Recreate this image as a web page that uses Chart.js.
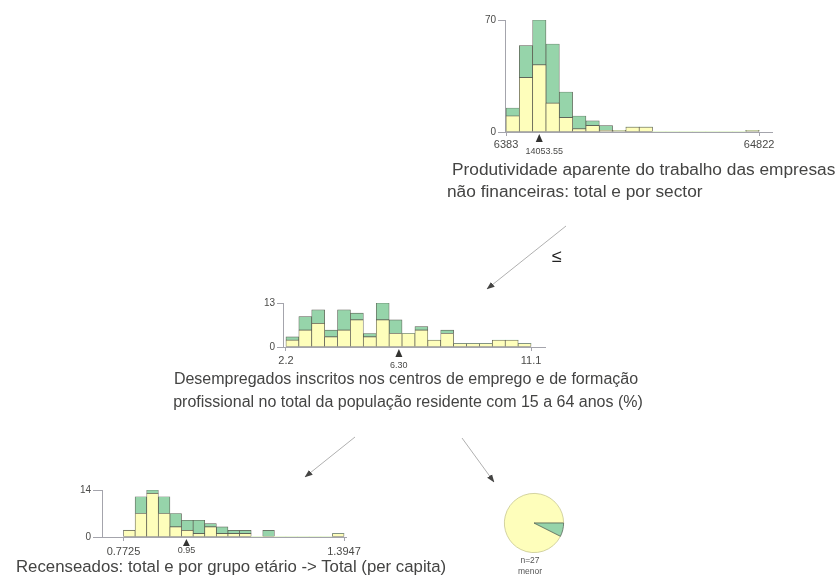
<!DOCTYPE html>
<html>
<head>
<meta charset="utf-8">
<title>Árvore de decisão</title>
<script src="https://cdn.jsdelivr.net/npm/chart.js@4.4.1/dist/chart.umd.min.js"></script>
<style>
  html, body { margin: 0; padding: 0; background: #ffffff; }
  #palco { position: relative; width: 840px; height: 582px; overflow: hidden; background: #ffffff; }
  #palco canvas { position: absolute; }
  #ligacoes { position: absolute; left: 0; top: 0; pointer-events: none; }
  #ligacoes text { font-family: "Liberation Sans", Arial, sans-serif; fill: #444443; }
</style>
</head>
<body>
<div id="palco">
  <canvas id="histProd"></canvas>
  <canvas id="histDesemp"></canvas>
  <canvas id="histRecens"></canvas>
  <canvas id="folha"></canvas>
  <svg id="ligacoes" width="840" height="582" xmlns="http://www.w3.org/2000/svg">
    <defs>
      <marker id="seta" markerWidth="8" markerHeight="8" refX="7.5" refY="4" orient="auto" markerUnits="userSpaceOnUse">
        <path d="M0,1 L8,4 L0,7 z" fill="#444443"/>
      </marker>
    </defs>
    <!-- ramos entre nós -->
    <line x1="566" y1="226" x2="487" y2="289" stroke="#b0b0b0" stroke-width="1" marker-end="url(#seta)"/>
    <line x1="355" y1="437" x2="305" y2="477" stroke="#b0b0b0" stroke-width="1" marker-end="url(#seta)"/>
    <line x1="462" y1="438" x2="494" y2="482" stroke="#b0b0b0" stroke-width="1" marker-end="url(#seta)"/>
    <text x="557" y="262" font-size="18" text-anchor="middle" style="fill:#222">≤</text>

    <!-- nomes das variáveis -->
    <text x="452" y="175" font-size="17.3">Produtividade aparente do trabalho das empresas</text>
    <text x="447" y="197" font-size="17.3">não financeiras: total e por sector</text>
    <text x="406" y="384" font-size="16" text-anchor="middle">Desempregados inscritos nos centros de emprego e de formação</text>
    <text x="408" y="407" font-size="16" text-anchor="middle">profissional no total da população residente com 15 a 64 anos (%)</text>
    <text x="16" y="572" font-size="16.8">Recenseados: total e por grupo etário -&gt; Total (per capita)</text>

    <!-- folha -->
    <text id="folhaN" x="530" y="563" font-size="8.5" text-anchor="middle" style="fill:#555"></text>
    <text id="folhaClasse" x="530" y="574" font-size="8.5" text-anchor="middle" style="fill:#555"></text>
  </svg>
</div>

<script>
// ---- Nó raiz: Produtividade aparente do trabalho ----
const prodRange = [6383, 64822];
const prodTicks = ['6383', '64822'];
const prodYTicks = [0, 70];
const prodMenor = [10, 34, 42, 18, 9, 2, 4, 1, 1, 3, 3, 0, 0, 0, 0, 0, 0, 0, 1];
const prodMaior = [5, 20, 28, 37, 16, 8, 3, 3, 0, 0, 0, 0, 0, 0, 0, 0, 0, 0, 0];
const prodSplit = 14053.55;
const prodSplitLabel = '14053.55';

// ---- Nó interno: Desempregados inscritos (%) ----
const desempRange = [2.2, 11.1];
const desempTicks = ['2.2', '11.1'];
const desempYTicks = [0, 13];
const desempMenor = [2, 5, 7, 3, 5, 8, 3, 8, 4, 4, 5, 2, 4, 1, 1, 1, 2, 2, 1];
const desempMaior = [1, 4, 4, 2, 6, 2, 1, 5, 4, 0, 1, 0, 1, 0, 0, 0, 0, 0, 0];
const desempSplit = 6.30;
const desempSplitLabel = '6.30';

// ---- Nó interno: Recenseados (per capita) ----
const recensRange = [0.7725, 1.3947];
const recensTicks = ['0.7725', '1.3947'];
const recensYTicks = [0, 14];
const recensMenor = [2, 7, 13, 7, 3, 2, 1, 3, 1, 1, 1, 0, 0, 0, 0, 0, 0, 0, 1];
const recensMaior = [0, 5, 1, 5, 4, 3, 4, 1, 2, 1, 1, 0, 2, 0, 0, 0, 0, 0, 0];
const recensSplit = 0.95;
const recensSplitLabel = '0.95';

// ---- Folha ----
const folhaLabels = ['menor', 'maior'];
const folhaCounts = [25, 2];
const folhaClasse = 'menor';

// ---- Estilo ----
const FONTE = '"Liberation Sans", Arial, sans-serif';
const AMARELO = '#fefebb';
const VERDE = '#96d4aa';
const CONTORNO = '#5a5a50';
const EIXO = '#a4a4ac';
const TEXTO = '#4a4a48';

// Triângulo da divisão e respetivo valor, sob o eixo x
const marcaCorte = {
  id: 'marcaCorte',
  afterDraw(chart, args, o) {
    const { ctx, chartArea } = chart;
    const px = chart.scales.x.getPixelForValue(o.value);
    const y0 = chartArea.bottom + o.gap;
    ctx.save();
    ctx.fillStyle = '#333331';
    ctx.beginPath();
    ctx.moveTo(px, y0);
    ctx.lineTo(px - o.half, y0 + o.h);
    ctx.lineTo(px + o.half, y0 + o.h);
    ctx.closePath();
    ctx.fill();
    ctx.font = o.size + 'px ' + FONTE;
    ctx.textAlign = 'center';
    ctx.textBaseline = 'middle';
    ctx.fillStyle = TEXTO;
    ctx.fillText(o.label, px + (o.dx || 0), chartArea.bottom + o.labelY);
    ctx.restore();
  }
};

function histograma(id, box, cfg) {
  const [lo, hi] = cfg.range;
  const span = hi - lo;
  const w = span / cfg.menor.length;
  const centro = i => lo + (i + 0.5) * w;
  const PADL = 40, PADT = 12, PADR = 35, PADB = 34;

  const canvas = document.getElementById(id);
  canvas.style.left = (box.l - PADL) + 'px';
  canvas.style.top = (box.t - PADT) + 'px';
  canvas.width = box.r - box.l + PADL + PADR;
  canvas.height = box.b - box.t + PADT + PADB;

  const serie = (valores, cor, nome) => ({
    label: nome,
    data: valores.map((v, i) => ({ x: centro(i), y: v })),
    backgroundColor: cor,
    borderColor: CONTORNO,
    borderWidth: c => (c.raw && c.raw.y ? 0.7 : 0),
    borderSkipped: false,
    barPercentage: 1,
    categoryPercentage: 1
  });

  return new Chart(canvas, {
    type: 'bar',
    data: {
      datasets: [
        serie(cfg.menor, AMARELO, folhaLabels[0]),
        serie(cfg.maior, VERDE, folhaLabels[1])
      ]
    },
    options: {
      responsive: false,
      animation: false,
      devicePixelRatio: 1,
      layout: { padding: { left: 0, top: PADT, right: PADR, bottom: 0 } },
      plugins: {
        legend: { display: false },
        tooltip: { enabled: false },
        marcaCorte: Object.assign({ value: cfg.split, label: cfg.splitLabel }, cfg.marca)
      },
      scales: {
        x: {
          type: 'linear',
          stacked: true,
          offset: false,
          min: lo - cfg.padL * span,
          max: hi + cfg.padR * span,
          grid: { offset: false, drawOnChartArea: false, drawTicks: true, tickLength: 4, color: EIXO, lineWidth: 1 },
          border: { color: EIXO, width: 1 },
          ticks: {
            font: { size: 11, family: FONTE },
            color: TEXTO,
            padding: cfg.xPad,
            maxRotation: 0,
            autoSkip: false,
            callback: (v, i) => cfg.ticks[i]
          },
          afterBuildTicks: s => { s.ticks = [{ value: lo }, { value: hi }]; },
          afterFit: s => { s.height = PADB; s.paddingLeft = 0; s.paddingRight = 0; }
        },
        y: {
          stacked: true,
          min: cfg.yTicks[0],
          max: cfg.yTicks[1],
          grid: { drawOnChartArea: false, drawTicks: true, tickLength: cfg.yTick, color: EIXO, lineWidth: 1 },
          border: { color: EIXO, width: 1 },
          ticks: {
            font: { size: 10, family: FONTE },
            color: TEXTO,
            padding: 2,
            autoSkip: false
          },
          afterBuildTicks: s => { s.ticks = cfg.yTicks.map(v => ({ value: v })); },
          afterFit: s => { s.width = PADL; s.paddingTop = 0; s.paddingBottom = 0; }
        }
      }
    },
    plugins: [marcaCorte]
  });
}

histograma('histProd', { l: 505, t: 20, r: 772, b: 132 }, {
  range: prodRange, ticks: prodTicks, yTicks: prodYTicks,
  menor: prodMenor, maior: prodMaior,
  split: prodSplit, splitLabel: prodSplitLabel,
  padL: 0.004, padR: 0.051, xPad: 2, yTick: 7,
  marca: { gap: 2, h: 8, half: 3.5, size: 9, labelY: 19.5, dx: 5 }
});

histograma('histDesemp', { l: 283, t: 303, r: 545, b: 347 }, {
  range: desempRange, ticks: desempTicks, yTicks: desempYTicks,
  menor: desempMenor, maior: desempMaior,
  split: desempSplit, splitLabel: desempSplitLabel,
  padL: 0.012, padR: 0.057, xPad: 3.5, yTick: 6,
  marca: { gap: 2, h: 8, half: 3.5, size: 9, labelY: 19 }
});

histograma('histRecens', { l: 102, t: 490, r: 346, b: 537 }, {
  range: recensRange, ticks: recensTicks, yTicks: recensYTicks,
  menor: recensMenor, maior: recensMaior,
  split: recensSplit, splitLabel: recensSplitLabel,
  padL: 0.0975, padR: 0.009, xPad: 4, yTick: 9,
  marca: { gap: 2, h: 7, half: 3.5, size: 9, labelY: 14 }
});

// Folha: proporção das classes
(function () {
  const canvas = document.getElementById('folha');
  canvas.width = 66; canvas.height = 66;
  canvas.style.left = '501px';
  canvas.style.top = '490px';
  const total = folhaCounts.reduce((a, b) => a + b, 0);
  new Chart(canvas, {
    type: 'pie',
    data: {
      labels: folhaLabels,
      datasets: [{
        data: folhaCounts,
        backgroundColor: [AMARELO, VERDE],
        borderColor: ['#c8c890', '#5a6a5a'],
        borderWidth: 0.8
      }]
    },
    options: {
      responsive: false,
      animation: false,
      devicePixelRatio: 1,
      rotation: 90 + 360 * folhaCounts[1] / total,
      layout: { padding: 3 },
      plugins: { legend: { display: false }, tooltip: { enabled: false } }
    }
  });
  document.getElementById('folhaN').textContent = 'n=' + total;
  document.getElementById('folhaClasse').textContent = folhaClasse;
})();
</script>
</body>
</html>
